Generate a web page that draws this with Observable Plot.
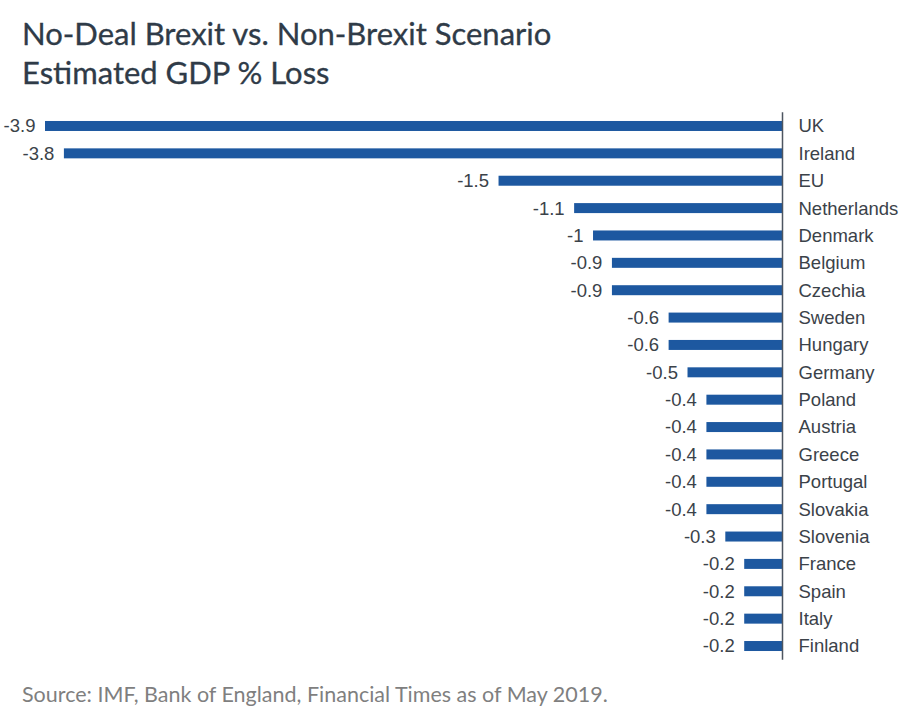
<!DOCTYPE html>
<html>
<head>
<meta charset="utf-8">
<script src="https://cdn.jsdelivr.net/npm/d3@7"></script>
<script src="https://cdn.jsdelivr.net/npm/@observablehq/plot@0.6"></script>
<style>
  html, body { margin: 0; padding: 0; background: #fff; }
  #wrap { position: relative; width: 904px; height: 715px; overflow: hidden; }
  #title { position: absolute; left: 22px; top: 14px; font-family: Lato, "Open Sans", sans-serif; font-size: 31px; line-height: 39px; color: #2f3b48; -webkit-text-stroke: 0.3px #2f3b48; }
  #chart { position: absolute; left: 0; top: 100px; }
  #source { position: absolute; left: 22px; top: 682px; font-family: Lato, "Open Sans", sans-serif; font-size: 21.5px; line-height: 1.2; color: #7f7f7f; }
</style>
</head>
<body>
<div id="wrap">
  <div id="title">No-Deal Brexit vs. Non-Brexit Scenario<br>Estimated GDP % Loss</div>
  <div id="chart"></div>
  <div id="source">Source: IMF, Bank of England, Financial Times as of May 2019.</div>
</div>
<script>
const countries = ["UK", "Ireland", "EU", "Netherlands", "Denmark", "Belgium", "Czechia", "Sweden", "Hungary", "Germany", "Poland", "Austria", "Greece", "Portugal", "Slovakia", "Slovenia", "France", "Spain", "Italy", "Finland"];
const values = [-3.9, -3.8, -1.5, -1.1, -1, -0.9, -0.9, -0.6, -0.6, -0.5, -0.4, -0.4, -0.4, -0.4, -0.4, -0.3, -0.2, -0.2, -0.2, -0.2];

const data = countries.map((c, i) => ({country: c, value: values[i]}));

const font = "'Liberation Sans', Arial, sans-serif";

const chart = Plot.plot({
  width: 904,
  height: 575,
  marginTop: 12.3,
  marginBottom: 15.3,
  marginLeft: 45,
  marginRight: 122,
  style: {fontFamily: font, fontSize: "18.5px", background: "transparent"},
  x: {domain: [-3.9, 0], axis: null},
  y: {domain: countries, axis: null, paddingInner: 0.635, paddingOuter: 0.3175, round: false},
  marks: [
    Plot.barX(data, {x: "value", y: "country", fill: "#1d58a0"}),
    Plot.ruleX([0], {stroke: "#4d5560", strokeWidth: 1.5}),
    Plot.text(data, {x: "value", y: "country", text: d => String(d.value), textAnchor: "end", dx: -10, fill: "#3b4249", fontSize: 18.5}),
    Plot.text(data, {x: 0, y: "country", text: "country", textAnchor: "start", dx: 16, fill: "#3b4249", fontSize: 18.5})
  ]
});
document.getElementById("chart").appendChild(chart);
</script>
</body>
</html>
